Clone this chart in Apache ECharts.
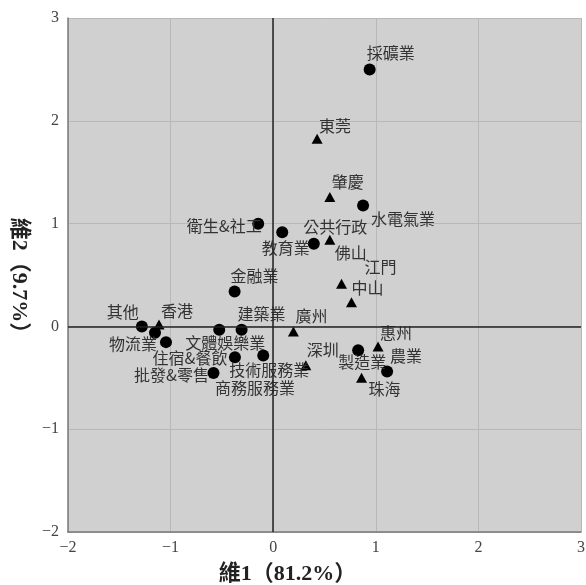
<!DOCTYPE html>
<html>
<head>
<meta charset="utf-8">
<script src="https://cdn.jsdelivr.net/npm/echarts@6/dist/echarts.min.js"></script>
<style>
html,body{margin:0;padding:0;background:#fff;}
#chart{width:586px;height:585px;}
</style>
</head>
<body>
<div id="chart"></div>
<script>
// Industries (circles)
var industryNames = ['採礦業','水電氣業','公共行政','教育業','衛生&社工','金融業','其他','物流業','住宿&餐飲','文體娛樂業','建築業','技術服務業','商務服務業','批發&零售','製造業','農業'];
var industryX = [0.94, 0.876, 0.088, 0.396, -0.146, -0.376, -1.28, -1.152, -1.045, -0.526, -0.308, -0.097, -0.373, -0.582, 0.828, 1.11];
var industryY = [2.50, 1.177, 0.917, 0.804, 0.999, 0.34, 0.0, -0.061, -0.153, -0.032, -0.032, -0.282, -0.300, -0.454, -0.233, -0.438];

// Cities (triangles)
var cityNames = ['東莞','肇慶','佛山','中山','江門','廣州','香港','深圳','惠州','珠海'];
var cityX = [0.428, 0.552, 0.552, 0.666, 0.763, 0.197, -1.113, 0.318, 1.022, 0.861];
var cityY = [1.826, 1.258, 0.843, 0.415, 0.236, -0.049, 0.019, -0.379, -0.195, -0.499];

// Axis settings
var axisMin = -2, axisMax = 3, axisStep = 1;
var xAxisTitle = '維1（81.2%）';
var yAxisTitle = '維2（9.7%）';

// Label placement offsets (pixels) – layout only
var labelOffsets = {
  '採礦業':[21,-16],'水電氣業':[40,14],'公共行政':[53,-5],'教育業':[-28,4],'衛生&社工':[-34,2],
  '金融業':[20,-16],'其他':[-19,-14],'物流業':[-22,11],'住宿&餐飲':[24,16],'文體娛樂業':[6,13],
  '建築業':[20,-16],'技術服務業':[6,15],'商務服務業':[20,31],'批發&零售':[-42,2],'製造業':[4,12],'農業':[19,-16],
  '東莞':[18,-13],'肇慶':[18,-15],'佛山':[21,13],'中山':[26,4],'江門':[29,-35],'廣州':[18,-16],
  '香港':[18,-14],'深圳':[17,-15],'惠州':[18,-14],'珠海':[23,11]
};

function buildData(names, xs, ys){
  return names.map(function(n,i){ return {name:n, value:[xs[i], ys[i]]}; });
}
function makeLayout(names){
  return function(p){
    var o = labelOffsets[names[p.dataIndex]] || [0,0];
    return {dx:o[0], dy:o[1], hideOverlap:false, moveOverlap:false};
  };
}

var labelStyle = {
  show:true, position:'inside', formatter:'{b}',
  color:'#333', fontSize:16, fontFamily:'"Noto Sans CJK TC", "Noto Sans CJK SC", sans-serif',
  align:'center', verticalAlign:'middle'
};
function fmtTick(v){ return String(v).replace('-', '\u2212'); }

var chart = echarts.init(document.getElementById('chart'), null, {renderer:'canvas'});
chart.setOption({
  backgroundColor:'#ffffff',
  animation:false,
  grid:{left:68, right:5, top:18, bottom:53, containLabel:false, outerBoundsMode:'none',
        show:true, backgroundColor:'#d0d0d0', borderWidth:0},
  xAxis:{
    type:'value', min:axisMin, max:axisMax, interval:axisStep,
    name:xAxisTitle, nameLocation:'middle', nameGap:31,
    nameTextStyle:{fontSize:22, fontWeight:'bold', color:'#222', padding:[0,74,0,0], fontFamily:'"Liberation Serif", "Noto Sans CJK TC", serif'},
    axisLine:{show:true, onZero:false, lineStyle:{color:'#7a7a7a', width:1.5}},
    axisTick:{show:false},
    axisLabel:{formatter:fmtTick, fontSize:16, color:'#444', margin:8, fontFamily:'"Liberation Serif", serif'},
    splitLine:{show:true, lineStyle:{color:'#b8b8b8', width:1}}
  },
  yAxis:{
    type:'value', min:axisMin, max:axisMax, interval:axisStep,
    name:yAxisTitle, nameLocation:'middle', nameGap:38, nameRotate:-90,
    nameTextStyle:{fontSize:22, fontWeight:'bold', color:'#222', padding:[0,0,0,12], fontFamily:'"Liberation Serif", "Noto Sans CJK TC", serif'},
    axisLine:{show:true, onZero:false, lineStyle:{color:'#7a7a7a', width:1.5}},
    axisTick:{show:false},
    axisLabel:{formatter:fmtTick, fontSize:16, color:'#444', margin:9, fontFamily:'"Liberation Serif", serif'},
    splitLine:{show:true, lineStyle:{color:'#b8b8b8', width:1}}
  },
  series:[
    {
      type:'scatter', name:'industry', symbol:'circle', symbolSize:12,
      itemStyle:{color:'#000', opacity:1},
      label:labelStyle,
      labelLayout:makeLayout(industryNames),
      data:buildData(industryNames, industryX, industryY),
      markLine:{
        silent:true, symbol:['none','none'], label:{show:false},
        lineStyle:{color:'#222', width:1.5, type:'solid'},
        data:[{xAxis:0},{yAxis:0}]
      },
      z:3
    },
    {
      type:'scatter', name:'city', symbol:'triangle', symbolSize:[11,10],
      itemStyle:{color:'#000', opacity:1},
      label:labelStyle,
      labelLayout:makeLayout(cityNames),
      data:buildData(cityNames, cityX, cityY),
      z:3
    }
  ]
});
</script>
</body>
</html>
